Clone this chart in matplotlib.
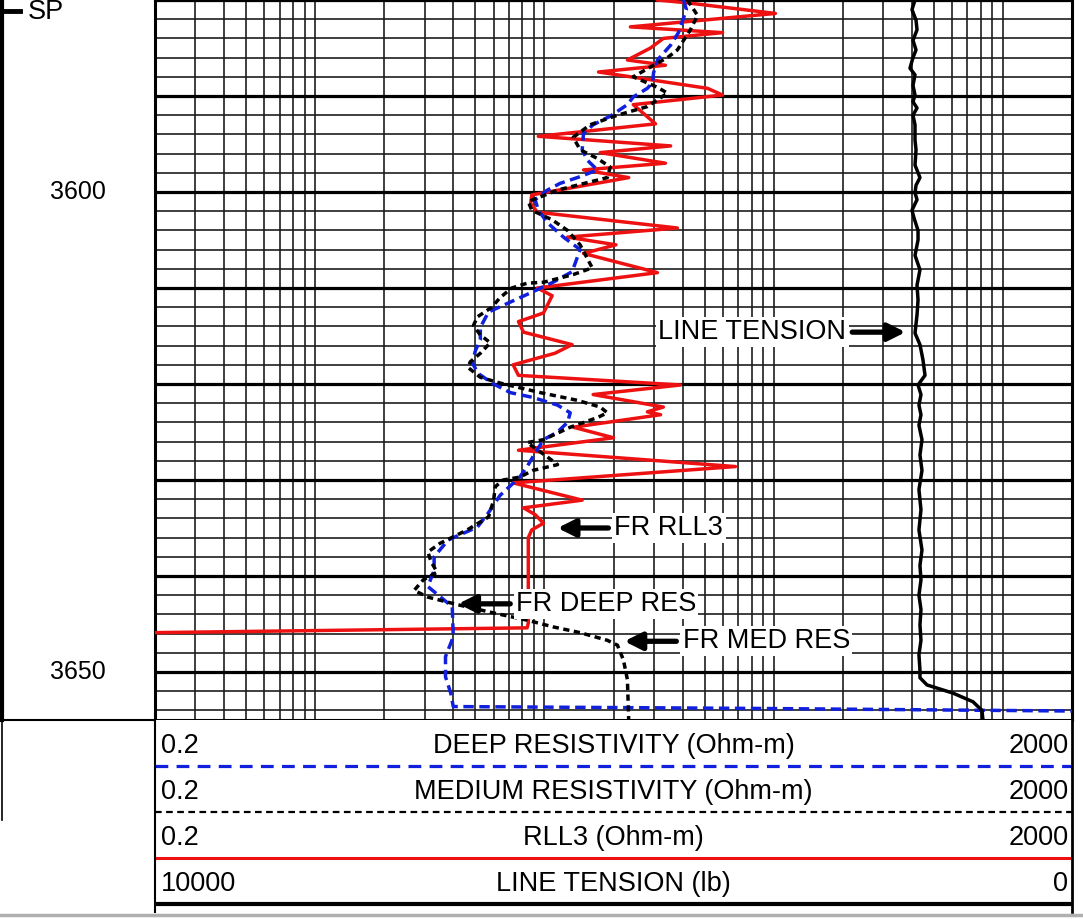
import numpy as np
import matplotlib
matplotlib.use("Agg")
import matplotlib.pyplot as plt
from matplotlib.lines import Line2D
from matplotlib import transforms

plt.rcParams['font.family'] = ['Liberation Sans', 'DejaVu Sans']

# RLL3 (ohm-m) vs depth
rll3_depth = [3580.0, 3580.3, 3581.4, 3582.8, 3583.4, 3584.0, 3585.0, 3586.25, 3586.8, 3587.5,
              3589.2, 3589.9, 3590.9, 3592.9, 3594.2, 3595.2, 3595.9, 3597.0, 3597.7, 3598.5,
              3600.3, 3601.2, 3602.1, 3603.75, 3604.7, 3605.5, 3606.4, 3608.4, 3610.0, 3610.8,
              3612.6, 3613.5, 3614.6, 3615.9, 3616.8, 3618.0, 3619.1, 3620.1, 3621.1, 3622.4,
              3622.9, 3623.2, 3624.5, 3625.6, 3626.9, 3628.6, 3630.3, 3632.1, 3632.9, 3633.6,
              3634.5, 3635.2, 3636.0, 3644.9, 3645.4, 3645.9]
rll3_val = [31.1, 42.0, 101.7, 23.7, 59.8, 33.0, 29.0, 23.0, 33.7, 17.2,
            51.4, 59.8, 24.4, 30.5, 9.4, 35.5, 17.5, 33.7, 14.8, 23.3,
            8.8, 8.7, 9.3, 38.0, 12.6, 20.5, 14.8, 31.1, 9.3, 10.8,
            9.9, 7.7, 8.1, 13.2, 11.1, 7.3, 7.7, 39.2, 16.3, 33.0,
            28.1, 32.1, 13.35, 20.0, 7.7, 68.1, 7.3, 14.6, 8.1, 9.1,
            9.9, 8.8, 8.5, 8.5, 8.4, 0.2]

# Deep resistivity
deep_depth = [3580.0, 3581.0, 3583.4, 3584.7, 3586.25, 3587.6, 3588.6, 3589.2, 3590.1, 3590.9,
              3592.1, 3593.0, 3593.9, 3595.6, 3596.7, 3597.7, 3598.4, 3599.1, 3599.8, 3600.8,
              3601.9, 3603.2, 3604.7, 3606.0, 3608.3, 3609.4, 3610.5, 3611.6, 3612.5, 3614.1,
              3615.4, 3616.5, 3617.8, 3618.9, 3619.9, 3620.9, 3621.4, 3622.2, 3623.0, 3624.0,
              3625.0, 3625.8, 3627.2, 3628.6, 3629.7, 3631.6, 3633.4, 3634.9, 3636.25, 3638.0,
              3639.4, 3641.1, 3643.2, 3646.35, 3648.4, 3650.5, 3652.2, 3653.6, 3653.8, 3654.1]
deep_val = [40.4, 41.6, 38.4, 35.5, 31.1, 29.9, 29.6, 28.1, 24.4, 23.0,
            19.35, 16.3, 14.8, 14.6, 15.4, 17.0, 14.3, 11.7, 10.3, 9.1,
            9.4, 10.3, 12.1, 14.3, 13.2, 10.9, 8.7, 6.9, 5.7, 5.25,
            5.25, 5.0, 4.84, 5.14, 5.9, 7.1, 8.9, 11.4, 12.95, 12.6,
            11.4, 9.9, 9.1, 8.4, 7.8, 6.4, 5.7, 5.1, 3.8, 3.3,
            3.3, 3.1, 3.96, 4.0, 3.7, 3.7, 3.9, 4.0, 90.0, 3000.0]

# Medium resistivity
med_depth = [3580.0, 3581.6, 3583.1, 3585.2, 3586.0, 3586.8, 3588.0, 3589.1, 3589.7, 3591.1,
             3592.0, 3593.0, 3594.3, 3595.6, 3596.5, 3597.4, 3598.5, 3599.8, 3601.0, 3601.9,
             3602.9, 3604.0, 3605.5, 3607.9, 3608.6, 3609.4, 3609.5, 3610.0, 3611.0, 3612.0,
             3613.0, 3613.9, 3614.9, 3615.7, 3616.8, 3617.7, 3618.3, 3619.3, 3619.9, 3620.9,
             3621.7, 3622.4, 3623.0, 3623.5, 3624.5, 3625.8, 3626.1, 3627.6, 3628.4, 3629.0,
             3629.7, 3630.0, 3630.7, 3632.1, 3633.85, 3635.2, 3636.6, 3637.5, 3638.5, 3639.6,
             3640.4, 3641.5, 3642.2, 3643.0, 3643.85, 3644.6, 3645.3, 3645.9, 3646.7, 3647.2,
             3648.75, 3650.8, 3655.0]
med_val = [42.0, 46.5, 43.3, 38.0, 34.4, 29.9, 24.4, 31.1, 34.4, 28.1,
           20.8, 15.8, 13.35, 14.3, 17.0, 19.35, 18.8, 11.4, 8.5, 8.8,
           10.8, 12.6, 14.3, 16.15, 13.35, 9.9, 8.4, 7.2, 6.4, 5.9,
           5.1, 4.9, 5.25, 5.8, 5.25, 4.74, 4.65, 5.25, 6.4, 9.6,
           13.9, 17.5, 18.8, 17.0, 12.95, 9.9, 8.4, 10.3, 11.4, 8.9,
           7.8, 6.6, 6.1, 6.0, 5.7, 4.6, 3.5, 3.1, 3.2, 3.4,
           2.96, 2.7, 3.1, 4.2, 6.0, 8.4, 10.9, 14.3, 18.8, 20.8,
           22.1, 23.0, 23.3]

# Line tension (lb)
tens_depth = [3580.0, 3581.0, 3582.1, 3583.1, 3584.2, 3585.2, 3586.0, 3587.1, 3587.8, 3588.9,
              3589.9, 3590.6, 3591.25, 3592.0, 3593.0, 3594.6, 3595.6, 3597.2, 3598.5, 3599.3,
              3600.1, 3600.8, 3601.9, 3602.7, 3604.0, 3605.0, 3606.6, 3608.1, 3609.7, 3611.25,
              3612.8, 3614.7, 3615.9, 3617.5, 3619.1, 3620.1, 3621.1, 3622.2, 3623.2, 3624.3,
              3625.8, 3627.4, 3629.0, 3631.0, 3633.1, 3635.2, 3637.3, 3638.9, 3640.4, 3642.0,
              3643.5, 3645.1, 3646.7, 3648.2, 3649.8, 3650.6, 3651.35, 3652.2, 3653.1, 3654.0,
              3655.0]
tens_val = [1712, 1745, 1701, 1690, 1734, 1701, 1734, 1767, 1712, 1734,
            1712, 1734, 1690, 1734, 1712, 1712, 1701, 1712, 1658, 1701,
            1712, 1690, 1745, 1723, 1679, 1679, 1712, 1658, 1690, 1679,
            1690, 1712, 1658, 1625, 1603, 1679, 1647, 1669, 1647, 1669,
            1636, 1658, 1636, 1669, 1647, 1669, 1636, 1658, 1647, 1669,
            1647, 1658, 1647, 1669, 1658, 1658, 1581, 1298, 1080, 982,
            971]

grid_vals = [0.2, 0.3, 0.4, 0.5, 0.6, 0.7, 0.8, 0.9,
             1, 2, 3, 4, 5, 6, 7, 8, 9,
             10, 20, 30, 40, 50, 60, 70, 80, 90,
             100, 200, 300, 400, 500, 600, 700, 800, 900, 1000, 2000]
depth_labels = [3600, 3650]

header_rows = [("0.2", "DEEP RESISTIVITY (Ohm-m)", "2000"),
               ("0.2", "MEDIUM RESISTIVITY (Ohm-m)", "2000"),
               ("0.2", "RLL3 (Ohm-m)", "2000"),
               ("10000", "LINE TENSION (lb)", "0")]

W, H = 1083, 919
fig = plt.figure(figsize=(W / 100, H / 100), dpi=100)

ax = fig.add_axes([155 / W, 1 - 720 / H, 917 / W, 720 / H])
ax.set_xscale('log')
ax.set_xlim(0.2, 2000)
ax.set_ylim(3655, 3580)

for v in grid_vals:
    ax.axvline(v, color='#1e1e1e', lw=1.2, zorder=1)
for d in np.arange(3580, 3656, 2):
    if d % 10 == 0:
        ax.axhline(d, color='black', lw=2.3, zorder=1)
    else:
        ax.axhline(d, color='#1e1e1e', lw=1.2, zorder=1)

ax.plot(rll3_val, rll3_depth, color='#ee1111', lw=2.5, zorder=3)
ax.plot(deep_val, deep_depth, color='#1020dd', lw=2.5, dashes=(3, 1.6), zorder=4)
ax.plot(med_val, med_depth, color='black', lw=2.5, dashes=(1.8, 1.3), zorder=4)

ax.set_xticks([])
ax.set_xticks([], minor=True)
ax.set_yticks([])
for s in ax.spines.values():
    s.set_linewidth(2.2)
    s.set_color('black')

ax2 = ax.twiny()
ax2.set_xlim(10000, 0)
ax2.plot(tens_val, tens_depth, color='black', lw=2.5)
ax2.set_xticks([])
for s in ax2.spines.values():
    s.set_visible(False)

# depth labels
tr = transforms.blended_transform_factory(fig.transFigure, ax.transData)
for d in depth_labels:
    ax.text(78 / W, d, str(d), transform=tr, ha='center', va='center', fontsize=18, clip_on=False)

# annotations
box = dict(facecolor='white', edgecolor='none', pad=1.5)
arrow = dict(arrowstyle='-|>', lw=3.8, color='black', mutation_scale=26, shrinkA=0, shrinkB=0)
notes = [("LINE TENSION", 31.4, 3614.6, 220, 376),
         ("FR RLL3", 20.2, 3635.0, 19.0, 11.4),
         ("FR DEEP RES", 7.5, 3642.9, 7.09, 4.2),
         ("FR MED RES", 40.0, 3646.8, 37.6, 22.3)]
for label, tx, ty, tail, tip in notes:
    ax.annotate('', xy=(tip, ty), xytext=(tail, ty), arrowprops=arrow, zorder=6)
    ax.text(tx, ty, label, ha='left', va='center', fontsize=19.5, bbox=box, zorder=7)

# header
hax = fig.add_axes([155 / W, 1 - 912 / H, 917 / W, 192 / H])
hax.set_xlim(0, 1)
hax.set_ylim(192 / 46, 0)
hax.set_xticks([])
hax.set_yticks([])
hax.spines['top'].set_visible(False)
hax.spines['bottom'].set_visible(False)
hax.spines['left'].set_linewidth(1.5)
hax.spines['right'].set_linewidth(2)
for k, (lo, name, hi) in enumerate(header_rows):
    yc = k + 0.56
    hax.text(0.006, yc, lo, ha='left', va='center', fontsize=19.5)
    hax.text(0.5, yc, name, ha='center', va='center', fontsize=19.5)
    hax.text(0.996, yc, hi, ha='right', va='center', fontsize=19.5)
hax.plot([0, 1], [1, 1], color='#1020dd', lw=2.3, dashes=(4, 2.6))
hax.plot([0, 1], [2, 2], color='black', lw=1.6, dashes=(3, 2))
hax.plot([0, 1], [3, 3], color='#ee1111', lw=2.2)
hax.plot([0, 1], [4, 4], color='black', lw=3)

# left track frame and SP
fig.add_artist(Line2D([2 / W, 2 / W], [1 - 720 / H, 1], color='black', lw=3))
fig.add_artist(Line2D([1.5 / W, 1.5 / W], [1 - 820 / H, 1 - 720 / H], color='black', lw=1.2))
fig.add_artist(Line2D([0, 155 / W], [1 - 720 / H, 1 - 720 / H], color='black', lw=1.5))
fig.add_artist(Line2D([0, 20 / W], [1 - 11 / H, 1 - 11 / H], color='black', lw=3.5))
fig.text(28 / W, 1 - 12 / H, "SP", ha='left', va='center', fontsize=19.5)
fig.add_artist(Line2D([0, 1], [1 - 915 / H, 1 - 915 / H], color='#b0b0b0', lw=2.5))

fig.savefig("out.png", dpi=100)
